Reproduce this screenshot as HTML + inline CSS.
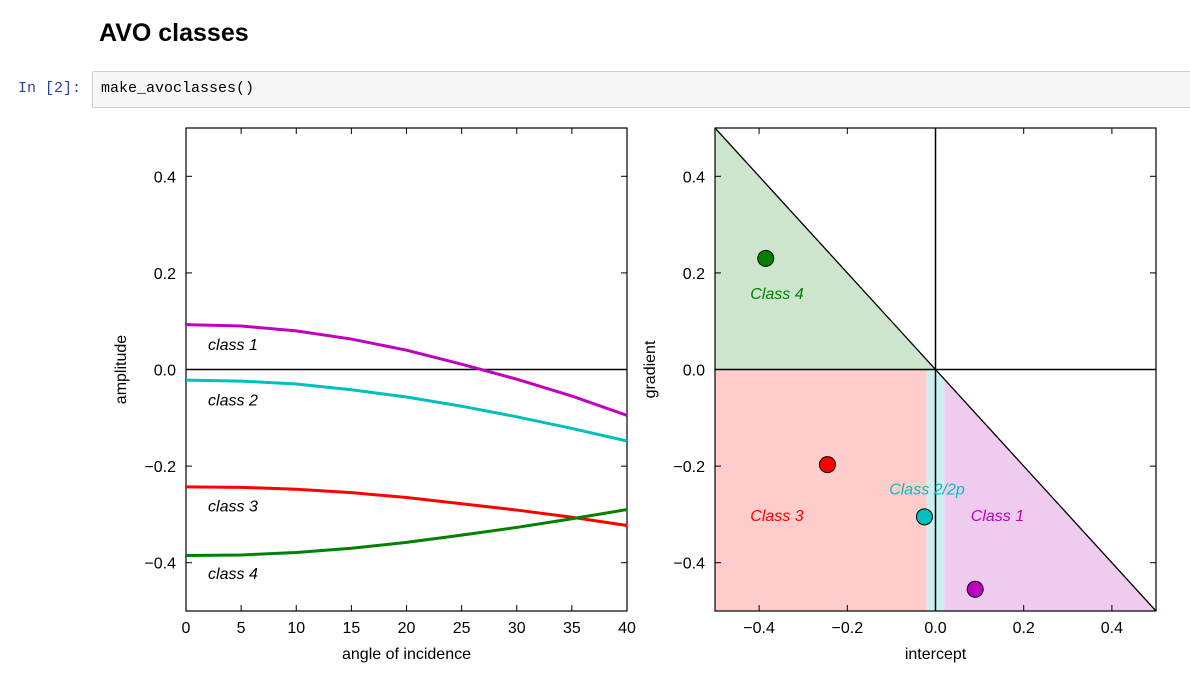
<!DOCTYPE html>
<html><head><meta charset="utf-8"><style>
body{margin:0;width:1190px;height:680px;background:#fff;position:relative;overflow:hidden;font-family:"Liberation Sans",sans-serif}
#title{position:absolute;left:99px;top:19px;font-size:25px;font-weight:bold;color:#000}
#prompt{position:absolute;left:18px;top:80px;font-family:"Liberation Mono",monospace;font-size:15px;color:#303f9f}
#cell{position:absolute;left:92px;top:71px;width:1110px;height:37px;background:#f7f7f7;border:1px solid #cfcfcf;border-radius:2px;box-sizing:border-box}
#code{position:absolute;left:8px;top:8px;font-family:"Liberation Mono",monospace;font-size:15px;color:#000}
svg{position:absolute;left:0;top:0}
</style></head><body>
<div id="title">AVO classes</div>
<div id="prompt">In [2]:</div>
<div id="cell"><div id="code">make_avoclasses()</div></div>
<svg id="chart" width="1190" height="680"></svg>
<script>
const angles=[0,5,10,15,20,25,30,35,40];
const class1=[0.093,0.090,0.080,0.063,0.040,0.011,-0.020,-0.055,-0.095];
const class2=[-0.022,-0.024,-0.030,-0.042,-0.057,-0.076,-0.098,-0.122,-0.148];
const class3=[-0.243,-0.244,-0.248,-0.255,-0.265,-0.278,-0.291,-0.306,-0.323];
const class4=[-0.385,-0.384,-0.379,-0.370,-0.358,-0.343,-0.327,-0.309,-0.290];
const pointNames=['class4','class3','class2','class1'];
const pointX=[-0.385,-0.245,-0.025,0.09];
const pointY=[0.23,-0.197,-0.305,-0.455];
const leftXTicks=[0,5,10,15,20,25,30,35,40];
const yTicks=[0.4,0.2,0.0,-0.2,-0.4];
const rightXTicks=[-0.4,-0.2,0.0,0.2,0.4];

const NS='http://www.w3.org/2000/svg';
const svg=document.getElementById('chart');
function mk(tag,attrs,parent,text){const e=document.createElementNS(NS,tag);for(const k in attrs)e.setAttribute(k,attrs[k]);if(text!==undefined)e.textContent=text;(parent||svg).appendChild(e);return e;}
const T=128,B=611;
const y=v=>T+(0.5-v)*(B-T);
const L={l:186,r:627};const R={l:715,r:1156};
const xl=v=>L.l+v/40*(L.r-L.l);
const xr=v=>R.l+(v+0.5)*(R.r-R.l);
const fmt=v=>(v<0?'\u2212':'')+Math.abs(v).toFixed(1);
const lab={'font-size':'16','font-family':'Liberation Sans, sans-serif'};

const gR=mk('g',{});


const poly=(pts,fill,name)=>{const p=mk('polygon',{points:pts.map(q=>xr(q[0])+','+y(q[1])).join(' '),fill:fill},gR);};
poly([[-0.5,0.5],[0,0],[-0.5,0]],'#cce5cc','class4-region');
poly([[-0.5,0],[-0.02,0],[-0.02,-0.5],[-0.5,-0.5]],'#ffcccc','class3-region');
poly([[-0.02,0],[0,0],[0.02,-0.02],[0.02,-0.5],[-0.02,-0.5]],'#ccf0f0','class2-region');
poly([[0.02,-0.02],[0.5,-0.5],[0.02,-0.5]],'#f0cbf0','class1-region');

function axes(ax,xs,xt,xlabel,ylabel,nm){
  const g=mk('g',{});
  
  
  mk('rect',{x:ax.l,y:T,width:ax.r-ax.l,height:B-T,fill:'none',stroke:'#000','stroke-width':1.2},g);
  xt.forEach(v=>{const X=xs(v);mk('line',{x1:X,x2:X,y1:B,y2:B-6,stroke:'#000'},g);mk('line',{x1:X,x2:X,y1:T,y2:T+6,stroke:'#000'},g);
    const t=mk('text',Object.assign({x:X,y:B+22,'text-anchor':'middle'},lab),g,nm==='left-axes'?String(v):fmt(v));});
  yTicks.forEach(v=>{const Y=y(v);mk('line',{x1:ax.l,x2:ax.l+6,y1:Y,y2:Y,stroke:'#000'},g);mk('line',{x1:ax.r,x2:ax.r-6,y1:Y,y2:Y,stroke:'#000'},g);
    const t=mk('text',Object.assign({x:ax.l-10,y:Y+6,'text-anchor':'end'},lab),g,fmt(v));});
  const xl_=mk('text',Object.assign({x:(ax.l+ax.r)/2,y:B+48,'text-anchor':'middle'},lab),g,xlabel);
  
  const cy=(T+B)/2;
  const yl_=mk('text',Object.assign({x:ax.l-60,y:cy,'text-anchor':'middle',transform:`rotate(-90 ${ax.l-60} ${cy})`},lab),g,ylabel);
  
}
axes(L,xl,leftXTicks,'angle of incidence','amplitude','left-axes');
axes(R,xr,rightXTicks,'intercept','gradient','right-axes');

mk('line',{x1:L.l,x2:L.r,y1:y(0),y2:y(0),stroke:'#000','stroke-width':1.5});
mk('line',{x1:R.l,x2:R.r,y1:y(0),y2:y(0),stroke:'#000','stroke-width':1.5});
mk('line',{x1:xr(0),x2:xr(0),y1:T,y2:B,stroke:'#000','stroke-width':1.5});
mk('line',{x1:xr(-0.5),x2:xr(0.5),y1:y(0.5),y2:y(-0.5),stroke:'#000','stroke-width':1.3});

const series=[[class1,'#bf00bf','class1-curve'],[class2,'#00bfbf','class2-curve'],[class3,'#ff0000','class3-curve'],[class4,'#008000','class4-curve']];
series.forEach(([d,c,n])=>{const p=mk('polyline',{points:d.map((v,i)=>xl(angles[i])+','+y(v)).join(' '),fill:'none',stroke:c,'stroke-width':3});
  });
const it={'font-size':'16','font-style':'italic','font-family':'Liberation Sans, sans-serif'};
[['class 1',0.045],['class 2',-0.07],['class 3',-0.29],['class 4',-0.43]].forEach(([t,v])=>{const e=mk('text',Object.assign({x:xl(2),y:y(v)+2},it),svg,t);});

const pc=['#008000','#ff0000','#00bfbf','#bf00bf'];
pointX.forEach((v,i)=>{const c=mk('circle',{cx:xr(v),cy:y(pointY[i]),r:8,fill:pc[i],stroke:'#000','stroke-width':1});
  });
[['Class 4',-0.42,0.15,'#008000'],['Class 3',-0.42,-0.31,'#ff0000'],['Class 2/2p',-0.105,-0.255,'#00bfbf'],['Class 1',0.08,-0.31,'#bf00bf']].forEach(([t,a,b,c])=>{const e=mk('text',Object.assign({x:xr(a),y:y(b)+2,fill:c},it),svg,t);});
</script>
</body></html>
